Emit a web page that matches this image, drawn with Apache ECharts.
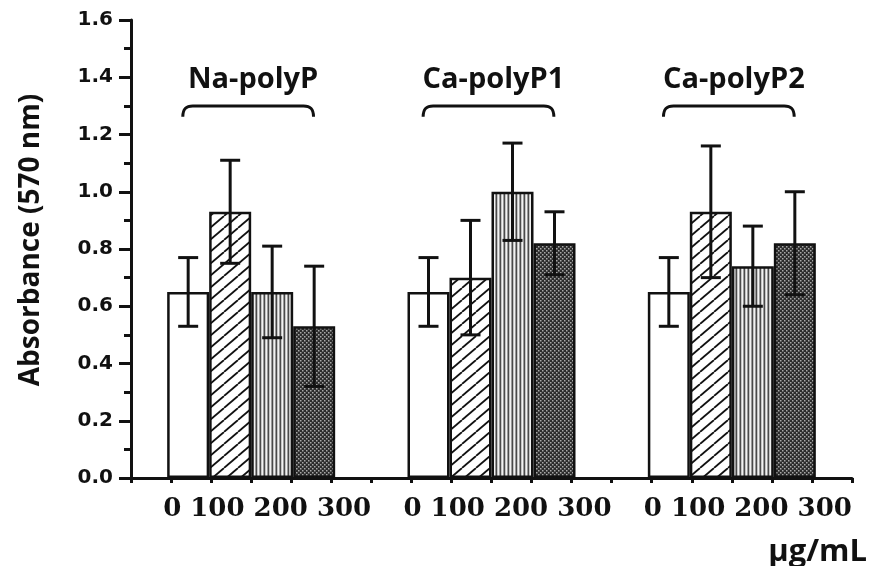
<!DOCTYPE html>
<html>
<head>
<meta charset="utf-8">
<script src="https://cdn.jsdelivr.net/npm/echarts@6/dist/echarts.min.js"></script>
<style>
  html, body { margin: 0; padding: 0; background: #fff; }
  #chart { width: 872px; height: 566px; }
</style>
</head>
<body>
<div id="chart"></div>
<script>
// groups and doses (µg/mL)
const groups = ["Na-polyP", "Ca-polyP1", "Ca-polyP2"];
const doses = ["0", "100", "200", "300"];

// absorbance means and error per dose, one value per group
const mean0 = [0.65, 0.65, 0.65];
const err0 = [0.12, 0.12, 0.12];
const mean100 = [0.93, 0.70, 0.93];
const err100 = [0.18, 0.20, 0.23];
const mean200 = [0.65, 1.00, 0.74];
const err200 = [0.16, 0.17, 0.14];
const mean300 = [0.53, 0.82, 0.82];
const err300 = [0.21, 0.11, 0.18];

const yMin = 0, yMax = 1.6, yStep = 0.2;

const means = [mean0, mean100, mean200, mean300];
const errs = [err0, err100, err200, err300];

const BAR_W = 42;

// fill patterns
function makeTile(w, h, draw) {
  const c = document.createElement("canvas");
  c.width = w;
  c.height = h;
  draw(c.getContext("2d"), w, h);
  return c;
}
const tileWhite = "#ffffff";
const tileHatch = makeTile(14, 12, (ctx, w, h) => {
  ctx.fillStyle = "#fff";
  ctx.fillRect(0, 0, w, h);
  ctx.strokeStyle = "#111";
  ctx.lineWidth = 1.8;
  for (let i = -1; i <= 1; i++) {
    ctx.beginPath();
    ctx.moveTo(i * w, h);
    ctx.lineTo((i + 1) * w, 0);
    ctx.stroke();
  }
});
const tileStripes = makeTile(4, 2, (ctx) => {
  const cols = ["#4a4a4a", "#c4c4c4", "#f2f2f2", "#9a9a9a"];
  cols.forEach((c, i) => {
    ctx.fillStyle = c;
    ctx.fillRect(i, 0, 1, 2);
  });
});
const tileDots = makeTile(4, 4, (ctx) => {
  ctx.fillStyle = "#2c2c2c";
  ctx.fillRect(0, 0, 4, 4);
  ctx.fillStyle = "#a8a8a8";
  ctx.fillRect(0, 0, 1.5, 1.5);
  ctx.fillRect(2, 2, 1.5, 1.5);
});
const fills = [
  tileWhite,
  { image: tileHatch, repeat: "repeat" },
  { image: tileStripes, repeat: "repeat" },
  { image: tileDots, repeat: "repeat" },
];

const barSeries = doses.map((d, k) => ({
  name: d,
  type: "bar",
  xAxisIndex: 0,
  barWidth: BAR_W,
  barGap: "0%",
  data: means[k],
  itemStyle: { color: fills[k], borderColor: "#111", borderWidth: 2.5 },
  z: 2,
}));

const errData = [];
groups.forEach((g, gi) => {
  doses.forEach((d, k) => {
    errData.push([gi, k, means[k][gi], errs[k][gi]]);
  });
});

const errSeries = {
  type: "custom",
  xAxisIndex: 0,
  z: 5,
  data: errData,
  encode: { x: 0, y: 2 },
  renderItem: (params, api) => {
    const gi = api.value(0), k = api.value(1);
    const m = api.value(2), e = api.value(3);
    const x = api.coord([gi, m])[0] + (k - 1.5) * BAR_W;
    const yTop = api.coord([gi, m + e])[1];
    const yBot = api.coord([gi, m - e])[1];
    const st = { stroke: "#111", lineWidth: 3 };
    return {
      type: "group",
      children: [
        { type: "line", shape: { x1: x, y1: yTop, x2: x, y2: yBot }, style: st },
        { type: "line", shape: { x1: x - 10, y1: yTop, x2: x + 10, y2: yTop }, style: st },
        { type: "line", shape: { x1: x - 10, y1: yBot, x2: x + 10, y2: yBot }, style: st },
      ],
    };
  },
};

const braceSeries = {
  type: "custom",
  xAxisIndex: 0,
  z: 6,
  clip: false,
  data: groups.map((g, i) => [i]),
  renderItem: (params, api) => {
    const gi = api.value(0);
    const band = api.size([1, 0])[0];
    const cx = api.coord([gi, 0])[0];
    const top = api.coord([gi, 1.30])[1];
    const end = api.coord([gi, 1.262])[1];
    const tY = api.coord([gi, 1.39])[1];
    const x1 = cx - 3 - band * 0.272, x2 = cx - 3 + band * 0.272;
    const r = 10;
    const path =
      "M" + x1 + " " + end +
      " C" + x1 + " " + (top + 3) + " " + (x1 + 3) + " " + top + " " + (x1 + r) + " " + top +
      " L" + (x2 - r) + " " + top +
      " C" + (x2 - 3) + " " + top + " " + x2 + " " + (top + 3) + " " + x2 + " " + end;
    return {
      type: "group",
      children: [
        { type: "path", shape: { pathData: path }, style: { fill: null, stroke: "#111", lineWidth: 3 } },
        {
          type: "text",
          style: {
            text: groups[gi], x: cx + 2, y: tY,
            align: "center", verticalAlign: "middle",
            fill: "#111", font: "bold 29px 'Open Sans'",
          },
        },
      ],
    };
  },
};

const chart = echarts.init(document.getElementById("chart"));
chart.setOption({
  animation: false,
  backgroundColor: "#fff",
  title: {
    text: "µg/mL",
    right: 0,
    top: 532,
    textStyle: { fontFamily: "Open Sans", fontWeight: "bold", fontSize: 31, color: "#111" },
  },
  grid: { left: 131, right: 20, top: 20, bottom: 88 },
  xAxis: [
    {
      type: "category",
      data: groups,
      axisLine: { lineStyle: { color: "#111", width: 3 } },
      axisTick: { show: false },
      axisLabel: {
        interval: 0,
        hideOverlap: false,
        formatter: () => doses.join(" "),
        fontFamily: "DejaVu Serif",
        fontWeight: "bold",
        fontSize: 26,
        color: "#111",
        margin: 18,
        padding: [0, 0, 0, 32],
      },
    },
    {
      type: "value",
      min: 0,
      max: 18,
      interval: 1,
      position: "bottom",
      axisLine: { show: false },
      axisTick: { show: true, length: 5, lineStyle: { color: "#111", width: 3 } },
      axisLabel: { show: false },
      splitLine: { show: false },
    },
  ],
  yAxis: {
    type: "value",
    min: yMin,
    max: yMax,
    interval: yStep,
    name: "Absorbance (570 nm)",
    nameLocation: "middle",
    nameGap: 86,
    nameTextStyle: {
      fontFamily: "Open Sans", fontWeight: "bold", fontSize: 28, color: "#111",
      padding: [0, 0, 0, 18],
    },
    axisLine: { show: true, lineStyle: { color: "#111", width: 3 } },
    axisTick: { show: true, length: 12, lineStyle: { color: "#111", width: 3 } },
    minorTick: { show: true, splitNumber: 2, length: 7, lineStyle: { color: "#111", width: 3 } },
    axisLabel: {
      formatter: (v) => v.toFixed(1),
      fontFamily: "DejaVu Sans",
      fontWeight: "bold",
      fontSize: 20,
      color: "#111",
      margin: 18,
    },
    splitLine: { show: false },
  },
  series: [...barSeries, errSeries, braceSeries],
});
</script>
</body>
</html>
